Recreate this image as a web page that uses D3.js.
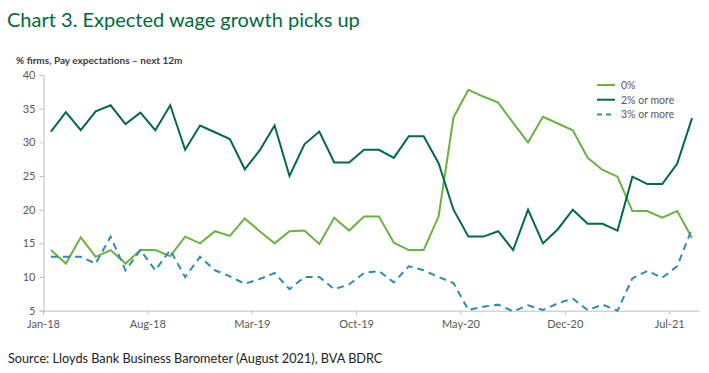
<!DOCTYPE html>
<html>
<head>
<meta charset="utf-8">
<script src="https://cdn.jsdelivr.net/npm/d3@7"></script>
<style>
  body { margin: 0; background: #fff; }
  svg { display: block; font-family: Lato, "Open Sans", sans-serif; }
  .axis path, .axis line { stroke: #bfbfbf; }
  .axis text { fill: #595959; font-size: 11px; font-family: Lato, sans-serif; }
</style>
</head>
<body>
<svg id="chart" width="709" height="373"></svg>
<script>
// monthly, Jan-18 .. Aug-21
const months = d3.timeMonths(new Date(2018, 0, 1), new Date(2021, 8, 1));
const tickLabels = ['Jan-18', 'Aug-18', 'Mar-19', 'Oct-19', 'May-20', 'Dec-20', 'Jul-21'];
const yTicks = [5, 10, 15, 20, 25, 30, 35, 40];

const zeroPct = [14, 12, 15.9, 13, 14, 12, 14, 14, 13.1, 16, 15, 16.8, 16.1, 18.7, 16.8, 15, 16.8, 16.9, 14.9,
  18.8, 16.9, 19, 19, 15.1, 14, 14, 19, 33.7, 37.8, 36.8, 35.9, 32.9, 30, 33.8, 32.8, 31.8, 27.7, 25.9, 24.9,
  19.8, 19.8, 18.8, 19.8, 15.8];
const twoPlus = [31.6, 34.5, 31.8, 34.6, 35.5, 32.7, 34.4, 31.8, 35.5, 28.9, 32.5, 31.5, 30.5, 26, 28.8, 32.5,
  25, 29.7, 31.6, 27, 27, 28.9, 28.9, 27.7, 30.9, 30.9, 26.9, 20, 16, 16, 16.8, 14, 20, 15, 17.1, 20, 17.9, 17.9,
  16.9, 24.9, 23.8, 23.8, 26.8, 33.6];
const threePlus = [13, 13, 13, 12, 16, 11, 14, 11, 14, 10, 13, 11, 10.1, 9, 9.7, 10.6, 8.2, 10, 10, 8.2, 8.9, 10.6,
  10.9, 9.2, 11.6, 11, 10, 9.1, 5.1, 5.6, 5.9, 4.9, 5.8, 5.1, 6.1, 6.8, 5.1, 5.9, 5, 9.8, 10.9, 9.9, 11.6, 17.2];

const series = [
  { name: '0%', values: zeroPct, color: '#6ab43e', dash: null },
  { name: '2% or more', values: twoPlus, color: '#006b45', dash: null },
  { name: '3% or more', values: threePlus, color: '#2b8cb6', dash: '7,5' }
];

const svg = d3.select('#chart');
const fmt = d3.timeFormat('%b-%y');

const x = d3.scaleBand()
  .domain(months.map(fmt))
  .range([43.5, 699.5]);

const y = d3.scaleLinear()
  .domain([5, 40])
  .range([310.7, 75]);

// title + subtitle
svg.append('text')
  .attr('x', 7).attr('y', 27)
  .attr('fill', '#006b3a')
  .style('font-size', '20px')
  .text('Chart 3. Expected wage growth picks up');

svg.append('text')
  .attr('x', 16).attr('y', 64)
  .attr('fill', '#3c3c3c')
  .style('font-size', '10px')
  .style('font-weight', 'bold')
  .text('% firms, Pay expectations \u2013 next 12m');

// axes
svg.append('g')
  .attr('class', 'axis')
  .attr('transform', 'translate(43.5,0)')
  .call(d3.axisLeft(y).tickValues(yTicks).tickSize(4).tickPadding(4));

const xAxis = svg.append('g')
  .attr('class', 'axis')
  .attr('transform', 'translate(0,310.7)')
  .call(d3.axisBottom(x).tickValues(tickLabels).tickSize(4).tickPadding(6));
// ticks sit on the left edge of each band (excel style)
xAxis.selectAll('.tick').attr('transform', d => `translate(${x(d)},0)`);
xAxis.select('.domain').attr('d', 'M43.5,0.5H699.5');

const line = d3.line()
  .x((d, i) => x(fmt(months[i])) + x.bandwidth() / 2)
  .y(d => y(d));

svg.append('g').selectAll('path')
  .data(series)
  .enter().append('path')
  .attr('d', d => line(d.values))
  .attr('fill', 'none')
  .attr('stroke', d => d.color)
  .attr('stroke-width', 2)
  .attr('stroke-dasharray', d => d.dash);

// legend
const legend = svg.append('g').attr('transform', 'translate(597,85)');
const rows = legend.selectAll('g')
  .data(series)
  .enter().append('g')
  .attr('transform', (d, i) => `translate(0,${i * 14.7})`);
rows.append('line')
  .attr('x1', 0).attr('x2', 18)
  .attr('stroke', d => d.color)
  .attr('stroke-width', 2)
  .attr('stroke-dasharray', d => d.dash ? '5,4' : null);
rows.append('text')
  .attr('x', 24).attr('y', 4)
  .attr('fill', '#595959')
  .style('font-size', '10.5px')
  .text(d => d.name);

svg.append('text')
  .attr('x', 8).attr('y', 363)
  .attr('fill', '#222')
  .style('font-size', '12.7px')
  .text('Source: Lloyds Bank Business Barometer (August 2021), BVA BDRC');
</script>
</body>
</html>
